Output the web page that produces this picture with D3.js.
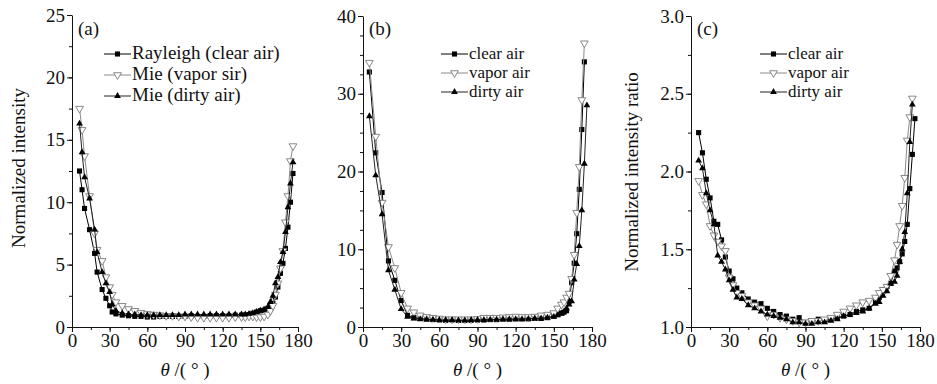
<!DOCTYPE html>
<html>
<head>
<meta charset="utf-8">
<script src="https://cdn.jsdelivr.net/npm/d3@7"></script>
<style>
  html, body { margin: 0; padding: 0; background: #fff; }
  svg { display: block; font-family: "Liberation Serif", "Times New Roman", serif; }
</style>
</head>
<body>
<svg id="chart" width="937" height="384"></svg>
<script>
// scattering angle grids (deg)
const thetaA = [6, 8, 10, 14, 18, 20, 24, 27, 30, 32, 35, 40, 45, 50, 55, 60, 65, 70, 75, 80,
  85, 90, 95, 100, 105, 110, 115, 120, 125, 130, 135, 138, 141, 144, 147, 150, 153, 156, 158, 160,
  162, 164, 166, 168, 170, 172, 174, 176];
const thetaB = [5, 10, 15, 20, 25, 30, 35, 40, 45, 50, 55, 60, 65, 70, 75, 80, 85, 90, 95, 100,
  105, 110, 115, 120, 125, 130, 135, 140, 145, 150, 153, 156, 158, 160, 162, 164, 166, 168, 170, 172,
  174, 176];
const thetaC = [6, 9, 12, 15, 18, 21, 24, 27, 30, 33, 36, 40, 45, 50, 55, 60, 65, 70, 75, 80,
  85, 90, 95, 100, 105, 110, 115, 120, 125, 130, 135, 140, 145, 148, 151, 154, 157, 160, 162, 164,
  166, 168, 170, 172, 174, 176];

// (a) normalized intensity
const rayleighA = [12.5, 11.0, 9.5, 7.8, 5.9, 4.4, 3.0, 2.3, 1.7, 1.2, 1.05, 0.95, 0.9, 0.85, 0.85, 0.8, 0.8, 0.85, 0.85, 0.85,
  0.85, 0.85, 0.9, 0.85, 0.85, 0.9, 0.9, 0.9, 0.9, 0.95, 0.95, 0.95, 1.0, 1.1, 1.2, 1.3, 1.35, 1.5, 1.8, 1.9,
  2.4, 3.2, 4.3, 5.1, 6.3, 8.0, 10.0, 12.3];
const vaporA = [17.5, 15.8, 13.7, 10.5, 7.5, 6.2, 5.3, 4.0, 3.2, 2.6, 2.0, 1.7, 1.45, 1.3, 1.15, 1.05, 1.0, 0.95, 0.9, 0.9,
  0.85, 0.85, 0.8, 0.75, 0.75, 0.75, 0.75, 0.75, 0.75, 0.8, 0.8, 0.8, 0.85, 0.85, 0.8, 0.8, 0.85, 1.0, 1.3, 1.7,
  2.6, 3.5, 4.7, 6.1, 8.4, 10.5, 13.3, 14.5];
const dirtyA = [16.3, 14.0, 12.0, 10.3, 7.8, 6.0, 4.4, 3.5, 2.8, 1.8, 1.3, 1.1, 1.0, 1.0, 0.95, 0.95, 0.95, 0.95, 0.95, 0.95,
  0.95, 1.0, 1.0, 1.0, 1.0, 1.0, 1.0, 1.0, 1.0, 1.0, 1.0, 1.0, 1.05, 1.1, 1.2, 1.3, 1.4, 1.6, 2.0, 2.5,
  3.5, 4.0, 5.2, 6.0, 7.6, 9.6, 11.5, 13.2];

// (b) normalized intensity
const clearB = [32.8, 22.4, 17.3, 8.5, 6.0, 3.4, 1.5, 1.2, 1.1, 1.0, 0.95, 0.9, 0.85, 0.9, 0.85, 0.85, 0.85, 0.9, 0.9, 0.95,
  0.95, 1.0, 1.0, 1.05, 1.05, 1.05, 1.1, 1.1, 1.2, 1.4, 1.6, 1.8, 1.9, 2.1, 3.3, 5.7, 8.2, 12.0, 17.7, 25.4,
  34.1, null];
const vaporB = [34.0, 24.5, 16.0, 10.3, 7.6, 4.4, 2.4, 1.9, 1.5, 1.3, 1.2, 1.1, 1.0, 1.0, 1.0, 1.0, 1.0, 1.05, 1.2, 1.2,
  1.2, 1.25, 1.3, 1.35, 1.3, 1.3, 1.35, 1.5, 1.6, 1.8, 2.4, 2.9, 3.2, 3.8, 4.3, 6.2, 9.3, 14.7, 20.6, 29.2,
  36.5, null];
const dirtyB = [27.1, 19.5, 14.5, 7.3, 4.8, 2.3, 1.3, 1.1, 1.0, 1.0, 0.95, 0.9, 0.9, 0.9, 0.85, 0.85, 0.9, 0.9, 0.9, 0.95,
  0.95, 1.0, 1.0, 1.0, 1.0, 1.05, 1.1, 1.1, 1.2, 1.3, 1.5, 1.7, 2.0, 2.4, 2.9, 3.3, 6.1, 8.1, 10.4, 15.0,
  21.0, 28.5];

// (c) normalized intensity ratio
const clearC = [2.25, 2.12, 1.95, 1.83, 1.68, 1.66, 1.56, 1.45, 1.36, 1.31, 1.25, 1.22, 1.18, 1.16, 1.15, 1.12, 1.10, 1.08, 1.07, 1.05,
  1.06, 1.03, 1.04, 1.05, 1.04, 1.05, 1.06, 1.07, 1.08, 1.10, 1.11, 1.12, 1.16, 1.19, 1.24, 1.26, 1.28, 1.36, 1.38, 1.42,
  1.47, 1.55, 1.66, 1.89, 2.11, 2.34];
const vaporC = [1.94, 1.85, 1.79, 1.65, 1.59, 1.55, 1.52, 1.49, 1.32, 1.27, 1.22, 1.20, 1.16, 1.14, 1.12, 1.07, 1.08, 1.06, 1.05, 1.04,
  1.03, 1.03, 1.04, 1.04, 1.05, 1.06, 1.08, 1.10, 1.12, 1.14, 1.16, 1.17, 1.19, 1.22, 1.24, 1.26, 1.33, 1.43, 1.53, 1.65,
  1.78, 1.96, 2.20, 2.35, 2.47, null];
const dirtyC = [2.07, 2.02, 1.86, 1.75, 1.66, 1.46, 1.42, 1.37, 1.30, 1.24, 1.19, 1.18, 1.14, 1.12, 1.10, 1.08, 1.07, 1.06, 1.05, 1.03,
  1.03, 1.02, 1.02, 1.03, 1.03, 1.04, 1.05, 1.07, 1.08, 1.09, 1.10, 1.12, 1.15, 1.16, 1.20, 1.23, 1.28, 1.29, 1.33, 1.42,
  1.50, 1.61, 1.86, 2.19, 2.43, null];

const xTicks = [0, 30, 60, 90, 120, 150, 180];
const legendA = ["Rayleigh (clear air)", "Mie (vapor sir)", "Mie (dirty air)"];
const legendBC = ["clear air", "vapor air", "dirty air"];

const FONT = 19;

const STYLES = {
  square: { line: "#000", fill: "#000", stroke: "none", type: d3.symbolSquare, size: 26, rot: 0 },
  down: { line: "#8a8a8a", fill: "#fff", stroke: "#7a7a7a", type: d3.symbolTriangle, size: 26, rot: 180 },
  up: { line: "#222", fill: "#000", stroke: "none", type: d3.symbolTriangle, size: 20, rot: 0 },
};

const svg = d3.select("#chart");
svg.append("rect").attr("width", 937).attr("height", 384).attr("fill", "#fff");

function drawPanel(cfg) {
  const x = d3.scaleLinear().domain([0, 180]).range([cfg.left, cfg.right]);
  const y = d3.scaleLinear().domain(cfg.yDomain).range([cfg.bottom, cfg.top]);
  const g = svg.append("g");

  // minor ticks
  g.append("g")
    .attr("transform", `translate(0,${cfg.bottom})`)
    .call(d3.axisBottom(x).tickValues(d3.range(0, 181, 15)).tickSize(3).tickFormat(""))
    .call((a) => a.select(".domain").remove());
  g.append("g")
    .attr("transform", `translate(${cfg.left},0)`)
    .call(d3.axisLeft(y).tickValues(cfg.yMinor).tickSize(3).tickFormat(""))
    .call((a) => a.select(".domain").remove());

  // major ticks
  const xa = g.append("g")
    .attr("transform", `translate(0,${cfg.bottom})`)
    .call(d3.axisBottom(x).tickValues(xTicks).tickSize(5).tickSizeOuter(0).tickPadding(2));
  const ya = g.append("g")
    .attr("transform", `translate(${cfg.left},0)`)
    .call(d3.axisLeft(y).tickValues(cfg.yTicks).tickFormat(cfg.yFormat).tickSize(5).tickSizeOuter(0).tickPadding(2));
  [xa, ya].forEach((a) => {
    a.selectAll("text").attr("font-size", FONT).attr("font-family", "Liberation Serif").attr("fill", "#111");
  });
  g.selectAll(".domain, .tick line").attr("stroke", "#111");

  // axis titles
  const xt = g.append("text")
    .attr("x", (cfg.left + cfg.right) / 2)
    .attr("y", 376)
    .attr("text-anchor", "middle")
    .attr("font-size", FONT)
    .attr("fill", "#111");
  xt.append("tspan").attr("font-style", "italic").text("θ");
  xt.append("tspan").text(" /( ° )");

  if (cfg.yTitle) {
    g.append("text")
      .attr("transform", `translate(${cfg.yTitleX},${cfg.yTitleY}) rotate(-90)`)
      .attr("text-anchor", "middle")
      .attr("font-size", FONT)
      .attr("fill", "#111")
      .text(cfg.yTitle);
  }

  // panel tag
  g.append("text")
    .attr("x", cfg.left + 6)
    .attr("y", 35)
    .attr("font-size", FONT)
    .attr("fill", "#111")
    .text(cfg.tag);

  // series
  const line = d3.line()
    .defined((d) => d[1] != null)
    .x((d) => x(d[0]))
    .y((d) => y(d[1]));

  cfg.series.forEach((s) => {
    const st = STYLES[s.marker];
    const pts = cfg.theta.map((t, i) => [t, s.values[i]]);
    g.append("path")
      .datum(pts)
      .attr("fill", "none")
      .attr("stroke", st.line)
      .attr("stroke-width", 1)
      .attr("d", line);
    g.append("g")
      .selectAll("path")
      .data(pts.filter((d) => d[1] != null))
      .enter()
      .append("path")
      .attr("d", d3.symbol().type(st.type).size(st.size))
      .attr("transform", (d) => `translate(${x(d[0])},${y(d[1])}) rotate(${st.rot})`)
      .attr("fill", st.fill)
      .attr("stroke", st.stroke)
      .attr("stroke-width", 0.9);
  });

  // legend
  cfg.series.forEach((s, i) => {
    const st = STYLES[s.marker];
    const ly = cfg.legendY[i];
    const lg = g.append("g");
    lg.append("line")
      .attr("x1", cfg.legendX).attr("x2", cfg.legendX + 27)
      .attr("y1", ly - 5).attr("y2", ly - 5)
      .attr("stroke", st.line).attr("stroke-width", 1);
    lg.append("path")
      .attr("d", d3.symbol().type(st.type).size(st.size)())
      .attr("transform", `translate(${cfg.legendX + 13.5},${ly - 5}) rotate(${st.rot})`)
      .attr("fill", st.fill)
      .attr("stroke", st.stroke)
      .attr("stroke-width", 0.9);
    lg.append("text")
      .attr("x", cfg.legendX + 28)
      .attr("y", ly)
      .attr("font-size", cfg.legendFont)
      .attr("fill", "#111")
      .text(s.label);
  });
}

drawPanel({
  tag: "(a)",
  left: 72, right: 298, top: 15, bottom: 327,
  yDomain: [0, 25],
  yTicks: [0, 5, 10, 15, 20, 25],
  yMinor: d3.range(0, 25.1, 2.5),
  yFormat: d3.format("d"),
  yTitle: "Normalized intensity", yTitleX: 25, yTitleY: 168,
  theta: thetaA,
  legendX: 104, legendY: [59, 80, 101], legendFont: 19,
  series: [
    { label: legendA[0], values: rayleighA, marker: "square" },
    { label: legendA[1], values: vaporA, marker: "down" },
    { label: legendA[2], values: dirtyA, marker: "up" },
  ],
});

drawPanel({
  tag: "(b)",
  left: 363, right: 592, top: 16, bottom: 327,
  yDomain: [0, 40],
  yTicks: [0, 10, 20, 30, 40],
  yMinor: d3.range(0, 40.1, 2.5),
  yFormat: d3.format("d"),
  yTitle: null,
  theta: thetaB,
  legendX: 441, legendY: [59, 78, 97], legendFont: 17,
  series: [
    { label: legendBC[0], values: clearB, marker: "square" },
    { label: legendBC[1], values: vaporB, marker: "down" },
    { label: legendBC[2], values: dirtyB, marker: "up" },
  ],
});

drawPanel({
  tag: "(c)",
  left: 691, right: 920, top: 16, bottom: 327,
  yDomain: [1, 3],
  yTicks: [1, 1.5, 2, 2.5, 3],
  yMinor: d3.range(1, 3.01, 0.25),
  yFormat: d3.format(".1f"),
  yTitle: "Normalized intensity ratio", yTitleX: 638, yTitleY: 172,
  theta: thetaC,
  legendX: 760, legendY: [59, 78, 97], legendFont: 17,
  series: [
    { label: legendBC[0], values: clearC, marker: "square" },
    { label: legendBC[1], values: vaporC, marker: "down" },
    { label: legendBC[2], values: dirtyC, marker: "up" },
  ],
});
</script>
</body>
</html>
